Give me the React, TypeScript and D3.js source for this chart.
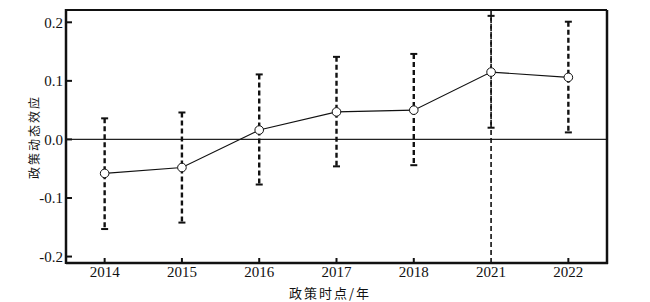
import React from "react";
import * as d3 from "d3";

const years = ["2014", "2015", "2016", "2017", "2018", "2021", "2022"];
const estimates = [-0.058, -0.048, 0.016, 0.047, 0.05, 0.115, 0.106];
const upper = [0.036, 0.046, 0.111, 0.141, 0.146, 0.211, 0.201];
const lower = [-0.153, -0.142, -0.077, -0.046, -0.044, 0.02, 0.012];
const yTicks = [-0.2, -0.1, 0.0, 0.1, 0.2];
const yLabel = "政策动态效应";
const xLabel = "政策时点/年";

const W = 650, H = 302;
const M = { left: 66, right: 43, top: 10, bottom: 39 };

export default function App() {
  const x = d3.scalePoint<string>().domain(years).range([M.left, W - M.right]).padding(0.5);
  const y = d3.scaleLinear().domain([-0.211, 0.221]).range([H - M.bottom, M.top]);
  const pts = years.map((yr, i) => [x(yr)!, y(estimates[i])] as [number, number]);
  const line = d3.line()(pts)!;
  const serif = { fontFamily: "\"Liberation Serif\", \"Times New Roman\", \"DejaVu Serif\", serif" };
  const cjk = { fontFamily: "\"Noto Sans CJK SC\", sans-serif" };
  const x0 = M.left, x1 = W - M.right, y0 = M.top, y1 = H - M.bottom;
  return (
    <svg width={W} height={H} style={{ position: "absolute", left: 0, top: 0, background: "#fff" }}>
      <rect x={0} y={0} width={W} height={H} fill="#fff" />
      <line x1={x0} x2={x1} y1={y(0)} y2={y(0)} stroke="#222" strokeWidth={1.2} />
      <line x1={x("2021")} x2={x("2021")} y1={y0} y2={y1} stroke="#111" strokeWidth={1.6} strokeDasharray="5,3" />
      {years.map((yr, i) => {
        const cx = x(yr)!;
        const thin = yr === "2021";
        return (
          <g key={yr}>
            <line x1={cx} x2={cx} y1={y(upper[i])} y2={y(lower[i])} stroke="#111" strokeWidth={thin ? 1.6 : 2.4} strokeDasharray="5,3" />
            <line x1={cx - 3.5} x2={cx + 3.5} y1={y(upper[i])} y2={y(upper[i])} stroke="#111" strokeWidth={2} />
            <line x1={cx - 3.5} x2={cx + 3.5} y1={y(lower[i])} y2={y(lower[i])} stroke="#111" strokeWidth={2} />
          </g>
        );
      })}
      <path d={line} fill="none" stroke="#111" strokeWidth={1.1} />
      {pts.map((p, i) => (
        <circle key={i} cx={p[0]} cy={p[1]} r={4.3} fill="#fff" stroke="#111" strokeWidth={1} />
      ))}
      <line x1={x0} x2={x1} y1={y0} y2={y0} stroke="#111" strokeWidth={2} />
      <line x1={x1} x2={x1} y1={y0} y2={y1 + 1} stroke="#111" strokeWidth={2.5} />
      <line x1={x0} x2={x0} y1={y0 - 1} y2={y1 + 1} stroke="#111" strokeWidth={2.5} />
      <line x1={x0} x2={x1 + 1} y1={y1} y2={y1} stroke="#111" strokeWidth={2.5} />
      {yTicks.map((t) => (
        <g key={t}>
          <line x1={x0} x2={x0 + 6} y1={y(t)} y2={y(t)} stroke="#111" strokeWidth={2} />
          <text x={x0 - 3} y={y(t)} dy="0.35em" textAnchor="end" style={serif} fontSize={15} fill="#111">
            {t.toFixed(1)}
          </text>
        </g>
      ))}
      {years.map((yr) => (
        <g key={yr}>
          {yr !== "2021" && (
            <line x1={x(yr)} x2={x(yr)} y1={y1} y2={y1 - 5} stroke="#111" strokeWidth={2} />
          )}
          <text x={x(yr)} y={y1 + 14} textAnchor="middle" style={serif} fontSize={15} fill="#111">
            {yr}
          </text>
        </g>
      ))}
      <text x={330} y={298} textAnchor="middle" style={{ ...cjk, letterSpacing: "2px" }} fontSize={13} fill="#111">
        {xLabel}
      </text>
      <text transform={`translate(39,137) rotate(-90)`} textAnchor="middle" style={{ ...cjk, letterSpacing: "2px" }} fontSize={12} fill="#111">
        {yLabel}
      </text>
    </svg>
  );
}
